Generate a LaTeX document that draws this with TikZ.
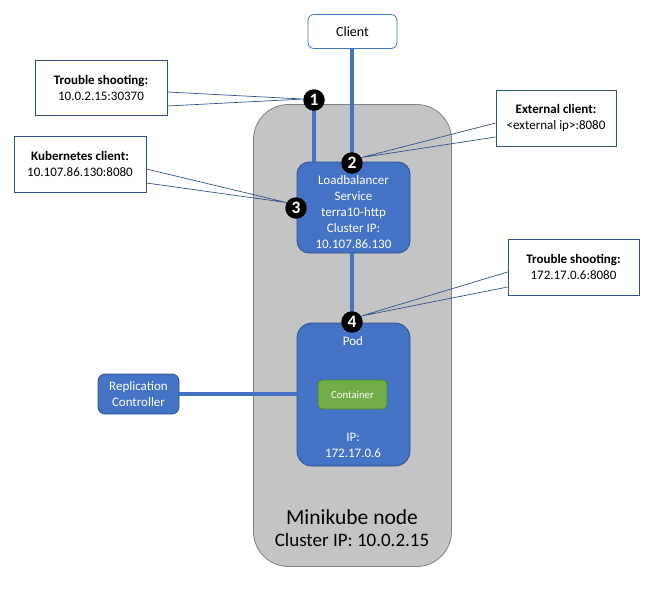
\documentclass[tikz,border=0pt]{standalone}
\usepackage{fontspec}
\setmainfont{Carlito}
\usetikzlibrary{calc}
\definecolor{bfill}{HTML}{4472C4}
\definecolor{bline}{HTML}{2F528F}
\definecolor{gfill}{HTML}{C4C4C4}
\definecolor{gline}{HTML}{808080}
\definecolor{cfill}{HTML}{70AD47}
\definecolor{cline}{HTML}{507E32}
\tikzset{
  bluebox/.style={draw=bline, fill=bfill, line width=0.8pt, text=white, align=center, inner sep=0pt, font=\fontsize{13}{16}\selectfont},
  whitetext/.style={text=white, align=center, inner sep=0pt, font=\fontsize{13}{16}\selectfont},
  callout/.style={draw=bline, fill=white, line width=0.8pt, align=center, inner sep=0pt, font=\fontsize{13}{16}\selectfont},
  thick link/.style={draw=bfill, line width=3.5pt},
  wedge/.style={draw=bline, line width=0.7pt},
  numdot/.style={circle, fill=black, minimum size=21.5pt, inner sep=0pt, text=white, font=\bfseries\fontsize{17.5}{17.5}\selectfont},
}
\begin{document}
\begin{tikzpicture}[x=1pt,y=-1pt]
\useasboundingbox (0,0) rectangle (672,595);
% Minikube node
\node (mk) [draw=gline, fill=gfill, line width=0.8pt, rounded corners=35pt, minimum width=198pt, minimum height=462pt, inner sep=0pt] at (352.5,335.5) {};
\node (mkt) [font=\fontsize{21.5}{24}\selectfont] at (352,517) {Minikube node};
\node (mki) [font=\fontsize{19}{22}\selectfont] at (352,540) {Cluster IP: 10.0.2.15};
% Client
\node (client) [draw=bfill, fill=white, line width=0.8pt, rounded corners=6pt, minimum width=89pt, minimum height=34pt, inner sep=0pt, font=\fontsize{14}{16}\selectfont] at (352.5,31.5) {Client};
% circles positions
\coordinate (p1) at (314,100);
\coordinate (p2) at (352,163);
\coordinate (p3) at (296,208);
\coordinate (p4) at (352,322);
% Loadbalancer
\node (lb) [bluebox, rounded corners=12pt, minimum width=113pt, minimum height=91pt] at (353.5,207.5) {};
\node (lbt) [whitetext] at (353.5,212) {Loadbalancer\\Service\\terra10-http\\Cluster IP:\\10.107.86.130};
% Pod
\node (pod) [bluebox, rounded corners=15pt, minimum width=113pt, minimum height=143pt] at (353.5,394.5) {};
\node (podt) [whitetext] at (353,341) {Pod};
\node (podip) [whitetext] at (353,445) {IP:\\172.17.0.6};
\node (cont) [draw=cline, fill=cfill, line width=0.8pt, rounded corners=4pt, minimum width=69pt, minimum height=29pt, inner sep=0pt, text=white, font=\fontsize{10.7}{12}\selectfont] at (352.5,394.5) {Container};
% Replication controller
\node (rc) [bluebox, rounded corners=7pt, minimum width=81pt, minimum height=40pt] at (138.5,394) {Replication\\Controller};
% thick links
\draw[thick link] (client.south -| p2) -- (p2);
\draw[thick link] (p1) -- (p1 |- lb.north);
\draw[thick link] (lb.south -| p4) -- (p4);
\draw[thick link] (rc.east) -- (rc.east -| pod.west);
% callout boxes
\node (ts1) [callout, minimum width=132pt, minimum height=55pt] at (101,87.5) {\textbf{Trouble shooting:}\\10.0.2.15:30370};
\node (kc) [callout, minimum width=132pt, minimum height=56pt] at (80,164) {\textbf{Kubernetes client:}\\10.107.86.130:8080};
\node (ec) [callout, minimum width=120pt, minimum height=56pt] at (556,118) {\textbf{External client:}\\<external ip>:8080};
\node (ts4) [callout, minimum width=131pt, minimum height=56pt] at (573.5,267) {\textbf{Trouble shooting:}\\172.17.0.6:8080};
% numbered circles
\node (c1) [numdot] at (p1) {1};
\node (c2) [numdot] at (p2) {2};
\node (c3) [numdot] at (p3) {3};
\node (c4) [numdot] at (p4) {4};
% wedges
\draw[wedge] ([yshift=-4.5pt]ts1.east) -- (c1.175) -- ([yshift=-18.5pt]ts1.east);
\draw[wedge] ([yshift=-5pt]kc.east) -- (c3.150) -- ([yshift=-19pt]kc.east);
\draw[wedge] ([yshift=-5pt]ec.west) -- (c2.30) -- ([yshift=-19pt]ec.west);
\draw[wedge] ([yshift=-5pt]ts4.west) -- (c4.33) -- ([yshift=-20pt]ts4.west);
\end{tikzpicture}
\end{document}
